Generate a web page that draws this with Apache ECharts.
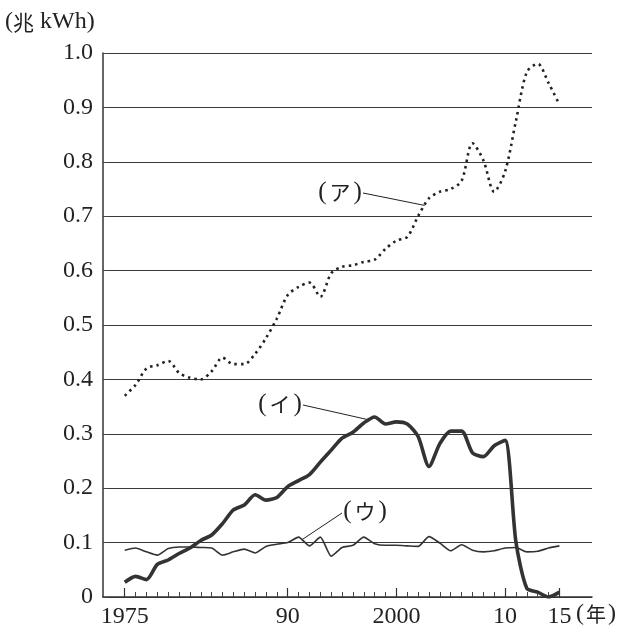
<!DOCTYPE html>
<html>
<head>
<meta charset="utf-8">
<script src="https://cdn.jsdelivr.net/npm/echarts@6.0.0/dist/echarts.min.js"></script>
<style>
  html, body { margin: 0; padding: 0; background: #fff; }
  #main { width: 639px; height: 636px; }
</style>
</head>
<body>
<div id="main"></div>
<script>
// years with data
var years = [
  "1975", "1976", "1977", "1978", "1979", "1980", "1981", "1982", "1983", "1984",
  "1985", "1986", "1987", "1988", "1989", "1990", "1991", "1992", "1993", "1994",
  "1995", "1996", "1997", "1998", "1999", "2000", "2001", "2002", "2003", "2004",
  "2005", "2006", "2007", "2008", "2009", "2010", "2011", "2012", "2013", "2014",
  "2015"
];
// axis runs a little past the data on both sides
var axisYears = ["1973", "1974"].concat(years, ["2016", "2017", "2018"]);
var majorYears = ["1975", "1990", "2000", "2010", "2015"];
var xLabels = { "1975": "1975", "1990": "90", "2000": "2000", "2010": "10", "2015": "15" };

// (ア) dotted
var seriesA = [
  0.370, 0.390, 0.420, 0.426, 0.434, 0.412, 0.403, 0.400, 0.415, 0.440,
  0.428, 0.428, 0.447, 0.476, 0.512, 0.555, 0.570, 0.578, 0.552, 0.595,
  0.607, 0.610, 0.616, 0.620, 0.640, 0.655, 0.662, 0.700, 0.733, 0.745,
  0.750, 0.765, 0.834, 0.803, 0.745, 0.782, 0.875, 0.965, 0.980, 0.945,
  0.905
];
// (イ) thick
var seriesI = [
  0.027, 0.038, 0.032, 0.060, 0.068, 0.080, 0.090, 0.104, 0.114, 0.135,
  0.160, 0.169, 0.188, 0.178, 0.183, 0.203, 0.214, 0.225, 0.248, 0.270,
  0.292, 0.303, 0.320, 0.331, 0.318, 0.322, 0.318, 0.295, 0.240, 0.282,
  0.305, 0.305, 0.265, 0.258, 0.278, 0.288, 0.101, 0.016, 0.009, 0.000,
  0.009
];
// (ウ) thin
var seriesU = [
  0.086, 0.090, 0.083, 0.077, 0.089, 0.092, 0.092, 0.091, 0.090, 0.077,
  0.083, 0.088, 0.081, 0.093, 0.097, 0.100, 0.110, 0.094, 0.110, 0.075,
  0.091, 0.095, 0.110, 0.098, 0.095, 0.095, 0.094, 0.093, 0.111, 0.099,
  0.085, 0.096, 0.086, 0.083, 0.085, 0.090, 0.091, 0.083, 0.084, 0.090,
  0.094
];

function pairs(vals) {
  return years.map(function (y, i) { return [y, vals[i]]; });
}

var serif = "'Liberation Serif', 'DejaVu Serif', serif";
var cjk = "'Noto Sans CJK JP', sans-serif";
var ink = "#222";

var myChart = echarts.init(document.getElementById("main"));

var option = {
  animation: false,
  backgroundColor: "#fff",
  grid: { left: 103, right: 47, top: 53, bottom: 39, outerBoundsMode: "none" },
  xAxis: [
    {
      type: "category",
      data: axisYears,
      boundaryGap: false,
      axisLine: { lineStyle: { color: "#333", width: 1.5 } },
      axisTick: {
        inside: true,
        length: 5,
        lineStyle: { color: "#444", width: 1 },
        interval: function (i, v) { return +v >= 1975 && +v <= 2015; }
      },
      axisLabel: {
        interval: function (i, v) { return majorYears.indexOf(v) >= 0; },
        formatter: function (v) { return xLabels[v] || ""; },
        margin: 8,
        color: ink,
        fontFamily: serif,
        fontSize: 24
      },
      splitLine: { show: false }
    },
    {
      type: "category",
      data: axisYears,
      boundaryGap: false,
      position: "bottom",
      axisLine: { show: false },
      axisTick: {
        inside: true,
        length: 9,
        lineStyle: { color: "#333", width: 1.2 },
        interval: function (i, v) { return majorYears.indexOf(v) >= 0; }
      },
      axisLabel: { show: false },
      splitLine: { show: false }
    }
  ],
  yAxis: {
    type: "value",
    min: 0,
    max: 1,
    interval: 0.1,
    axisLine: { show: true, lineStyle: { color: "#333", width: 1.5 } },
    axisTick: { show: true, inside: true, length: 5, lineStyle: { color: "#444" } },
    axisLabel: {
      margin: 10,
      color: ink,
      fontFamily: serif,
      fontSize: 24,
      formatter: function (v) { return v === 0 ? "0" : v.toFixed(1); }
    },
    splitLine: { show: true, lineStyle: { color: "#3a3a3a", width: 1 } }
  },
  series: [
    {
      name: "ア",
      type: "line",
      data: pairs(seriesA),
      symbol: "none",
      smooth: 0.3,
      lineStyle: { color: "#222", width: 2.6, type: [2.5, 4] },
      z: 3
    },
    {
      name: "イ",
      type: "line",
      data: pairs(seriesI),
      symbol: "none",
      smooth: 0.25,
      lineStyle: { color: "#333", width: 3.6 },
      z: 4
    },
    {
      name: "ウ",
      type: "line",
      data: pairs(seriesU),
      symbol: "none",
      smooth: 0.2,
      lineStyle: { color: "#333", width: 1.6 },
      z: 3
    }
  ]
};
myChart.setOption(option);

// pixel point on a series at a fractional year
function pointOn(vals, year) {
  var i = Math.floor(year) - 1975;
  var f = year - Math.floor(year);
  var p0 = myChart.convertToPixel({ seriesIndex: 0 }, [years[i], vals[i]]);
  var p1 = myChart.convertToPixel({ seriesIndex: 0 }, [years[i + 1], vals[i + 1]]);
  return [p0[0] + (p1[0] - p0[0]) * f, p0[1] + (p1[1] - p0[1]) * f];
}

function tag(kana, cx, cy) {
  return {
    type: "text",
    style: {
      text: "{p|(}{k|" + kana + "}{p|)}",
      x: cx,
      y: cy,
      align: "center",
      verticalAlign: "middle",
      fill: ink,
      rich: {
        p: { fontFamily: serif, fontSize: 25, fill: ink },
        k: { fontFamily: cjk, fontSize: 21, fill: ink, padding: [0, 3] }
      }
    }
  };
}

function leader(from, to) {
  return {
    type: "line",
    shape: { x1: from[0], y1: from[1], x2: to[0], y2: to[1] },
    style: { stroke: "#222", lineWidth: 1 }
  };
}

myChart.setOption({
  graphic: [
    {
      type: "text",
      style: {
        text: "{p|(}{k|兆}{p| kWh)}",
        x: 5,
        y: 22,
        verticalAlign: "middle",
        fill: ink,
        rich: {
          p: { fontFamily: serif, fontSize: 24, fill: ink },
          k: { fontFamily: cjk, fontSize: 21, fill: ink }
        }
      }
    },
    {
      type: "text",
      style: {
        text: "{p|(}{k|年}{p|)}",
        x: 576,
        y: 614,
        verticalAlign: "middle",
        fill: ink,
        rich: {
          p: { fontFamily: serif, fontSize: 24, fill: ink },
          k: { fontFamily: cjk, fontSize: 20, fill: ink, padding: [0, 2] }
        }
      }
    },
    tag("ア", 340, 192),
    leader([363, 193], pointOn(seriesA, 2002.6)),
    tag("イ", 280, 404),
    leader([303, 405], pointOn(seriesI, 1997.5)),
    tag("ウ", 365, 511),
    leader([342, 513], pointOn(seriesU, 1991.3))
  ]
});
</script>
</body>
</html>
